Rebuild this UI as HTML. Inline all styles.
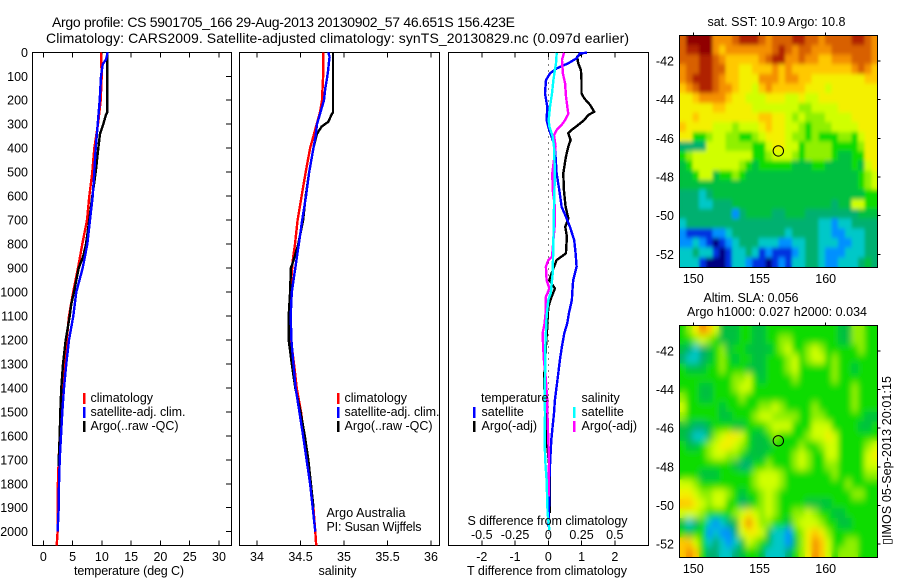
<!DOCTYPE html>
<html lang="en">
<head>
<meta charset="utf-8">
<title>Argo profile 5901705_166</title>
<style>
html,body{margin:0;padding:0;background:#fff;}
svg{display:block;}
text{font-family:"Liberation Sans",sans-serif;font-size:12.5px;fill:#000;}
.title{font-size:14px;}
</style>
</head>
<body>
<svg id="chart" xmlns="http://www.w3.org/2000/svg" width="900" height="580" viewBox="0 0 900 580">
  <defs>
    <clipPath id="clip-sst"><rect x="679.3" y="35.3" width="198" height="232"/></clipPath>
    <clipPath id="clip-sla"><rect x="679.3" y="325.7" width="198" height="231.6"/></clipPath>
    <filter id="smooth" x="0" y="0" width="100%" height="100%"><feGaussianBlur in="SourceGraphic" stdDeviation="3 4" result="b"/><feMerge><feMergeNode in="SourceGraphic"/><feMergeNode in="b"/></feMerge></filter>
    <filter id="soft" x="0" y="0" width="100%" height="100%"><feGaussianBlur in="SourceGraphic" stdDeviation="1.6 2.2" result="b"/><feMerge><feMergeNode in="SourceGraphic"/><feMergeNode in="b"/></feMerge></filter>
  </defs>
  <text class="title" x="52" y="27" textLength="463">Argo profile: CS 5901705_166 29-Aug-2013 20130902_57 46.651S 156.423E</text>
  <text class="title" x="46" y="43" textLength="583">Climatology: CARS2009. Satellite-adjusted climatology: synTS_20130829.nc (0.097d earlier)</text>

  <g id="map-layer"></g>
  <g id="plot-layer"></g>

  <text x="74" y="575" textLength="110">temperature (deg C)</text>
  <text x="318.5" y="575" textLength="38">salinity</text>
  <text x="467" y="575" textLength="160">T difference from climatology</text>
  <text x="467.5" y="525" textLength="160">S difference from climatology</text>

  <text x="90.5" y="402">climatology</text>
  <text x="90.5" y="416" textLength="95">satellite-adj. clim.</text>
  <text x="90.5" y="430" textLength="88">Argo(..raw -QC)</text>
  <text x="344.5" y="402">climatology</text>
  <text x="344.5" y="416" textLength="95">satellite-adj. clim.</text>
  <text x="344.5" y="430" textLength="88">Argo(..raw -QC)</text>
  <text x="326.5" y="517" textLength="79">Argo Australia</text>
  <text x="326.5" y="531" textLength="95">PI: Susan Wijffels</text>

  <text x="481" y="402">temperature</text>
  <text x="481.5" y="416">satellite</text>
  <text x="481.5" y="430">Argo(-adj)</text>
  <text x="581.5" y="402">salinity</text>
  <text x="581.5" y="416">satellite</text>
  <text x="581.5" y="430">Argo(-adj)</text>

  <text x="707.5" y="26" textLength="138">sat. SST: 10.9 Argo: 10.8</text>
  <text x="703.5" y="302" textLength="95">Altim. SLA: 0.056</text>
  <text x="687" y="316" textLength="180">Argo h1000: 0.027 h2000: 0.034</text>
  <text transform="translate(891,545) rotate(-90)" x="0" y="0" textLength="169">▯IMOS 05-Sep-2013 20:01:15</text>
</svg>

<script>
// ---------- profile data (depth in m, values in data units) ----------
const depthTicks = [0,100,200,300,400,500,600,700,800,900,1000,1100,1200,1300,1400,1500,1600,1700,1800,1900,2000];
const tempTicks = [0,5,10,15,20,25,30];
const salTicks = [34,34.5,35,35.5,36];
const salTickLabels = ['34','34.5','35','35.5','36'];
const tDiffTicks = [-2,-1,0,1,2];
const sDiffTicks = [-0.5,-0.25,0,0.25,0.5];
const sDiffTickLabels = ['-0.5','-0.25','0','0.25','0.5'];

const tempClimDepth = [0,100,200,300,400,500,600,700,800,900,1000,1100,1200,1300,1400,1500,1600,1700,1800,1900,2000,2057];
const tempClimValue = [9.85,9.97,9.8,9.34,8.7,8.37,7.86,7.46,6.66,5.92,5.1,4.39,3.99,3.53,3.2,3.07,2.8,2.63,2.5,2.5,2.45,2.29];
const tempSatDepth = [0,30,50,100,200,300,400,500,600,700,800,900,1000,1100,1200,1300,1400,1500,1600,1700,1800,1900,2000];
const tempSatValue = [11,10.7,10.14,9.85,9.63,9.29,8.95,8.71,8.43,7.97,7.51,6.73,5.63,5.12,4.39,3.93,3.53,3.24,3.02,2.8,2.68,2.63,2.45];
const tempArgoDepth = [0,250,260,300,340,400,500,600,700,800,850,900,1000,1050,1100,1200,1300,1400,1500,1600,1725];
const tempArgoValue = [10.93,10.93,10.7,10.24,9.68,9.39,8.95,8.37,7.86,7.29,6.83,6.04,5.24,4.78,4.5,3.82,3.36,3.07,2.9,2.8,2.6];

const salClimDepth = [0,100,200,250,300,350,400,500,600,700,800,870,1000,1100,1200,1300,1400,1500,1600,1700,1800,1900,2000,2057];
const salClimValue = [34.762,34.76,34.747,34.724,34.686,34.648,34.61,34.56,34.513,34.467,34.437,34.41,34.383,34.375,34.39,34.425,34.456,34.506,34.54,34.59,34.617,34.648,34.67,34.68];
const salSatDepth = [0,20,50,80,100,150,200,250,300,350,400,500,600,700,800,900,1000,1100,1200,1300,1400,1500,1600,1700,1800,1900,2000];
const salSatValue = [34.82,34.835,34.824,34.816,34.808,34.785,34.77,34.73,34.69,34.674,34.648,34.6,34.563,34.52,34.48,34.44,34.4,34.387,34.395,34.418,34.444,34.487,34.53,34.57,34.61,34.64,34.67];
const salArgoDepth = [0,250,260,290,310,340,400,500,600,700,800,870,900,1000,1100,1200,1300,1400,1500,1600,1700,1800,1900];
const salArgoValue = [34.874,34.874,34.858,34.82,34.743,34.69,34.648,34.6,34.56,34.53,34.475,34.418,34.39,34.38,34.364,34.364,34.4,34.44,34.5,34.55,34.59,34.62,34.65];

const dtSatDepth = [2,4,25,46,67,88,116,171,227,283,310,352,394,505,575,644,686,728,783,839,895,950,1006,1033,1089,1130,1172,1228,1283,1339,1395,1450,1506,1562,1617,1673,1756,1868,1979];
const dtSatValue = [1.16,0.95,0.85,0.6,0.25,0.05,-0.07,-0.1,-0.03,-0.05,0,0.1,0.2,0.25,0.33,0.4,0.53,0.65,0.78,0.82,0.85,0.75,0.72,0.71,0.62,0.57,0.48,0.41,0.35,0.3,0.25,0.2,0.17,0.13,0.09,0.07,0.04,0.03,0];
const dtArgoDepth = [2,18,46,74,116,171,192,220,248,262,283,303,324,338,366,394,436,505,575,644,693,728,770,839,867,895,922,950,985,1020,1062,1367,1478,1562,1645,1756,1923];
const dtArgoValue = [1.05,0.87,0.9,0.98,1,1,1.08,1.26,1.38,1.2,1.08,0.9,0.7,0.6,0.67,0.6,0.53,0.45,0.47,0.52,0.6,0.51,0.56,0.53,0.25,0.17,0.1,0.03,0.2,0.1,0,-0.13,-0.09,-0.05,-0.03,0.05,0.05];
const dsSatDepth = [2,46,74,116,171,227,283,310,352,394,505,644,783,922,1006,1033,1103,1172,1242,1311,1422,1506,1617,1701,1784,1923,1993];
const dsSatValue = [0.063,0.058,0.05,0.038,0.028,0.013,0.003,0.008,0.033,0.043,0.05,0.043,0.038,0.033,0.018,0,-0.013,-0.018,-0.023,-0.023,-0.028,-0.025,-0.028,-0.023,-0.013,-0.005,0.008];
const dsArgoDepth = [2,32,88,130,185,227,257,283,303,324,345,394,505,575,644,714,783,853,867,895,950,985,1020,1033,1089,1130,1172,1214,1283,1367,1450,1534,1617,1701,1854];
const dsArgoValue = [0.118,0.103,0.11,0.126,0.133,0.143,0.15,0.126,0.1,0.063,0.043,0.055,0.03,0.033,0.05,0.05,0.038,0.028,0,-0.018,-0.013,0.008,-0.018,-0.02,-0.02,-0.028,-0.043,-0.04,-0.033,-0.018,-0.008,-0.005,0,0.005,0.003];

// ---------- map data (colour-scale level per 0.5 degree cell) ----------
const mapLonTicks = [150,155,160];
const mapLatTicks = [-42,-44,-46,-48,-50,-52];
const floatLon = 156.423;
const floatLat = -46.651;
const colorLevels = ['#000080','#0030e0','#0090ff','#00c8c8','#00b070','#00c040','#10dc00','#90f000','#d0ff00','#f4f000','#ffc800','#f49000','#d86000','#b02000','#900000'];
const sstRow0  = [12,14,14,14,14,11,11,11,12,13,13,13,12,11,12,12,12,13,13,12,12,11,12,12,12,12,13,13,12,11];
const sstRow1  = [12,13,13,14,14,11,10,11,11,11,11,11,11,11,12,13,12,11,12,12,11,11,11,12,12,12,12,12,12,11];
const sstRow2  = [12,12,12,13,13,12,11,10,10,10,10,10,11,12,13,13,11,11,12,11,11,10,10,11,11,11,12,12,12,11];
const sstRow3  = [11,12,12,13,13,12,12,10,10,9,9,10,10,10,11,10,11,10,10,10,10,10,10,10,10,10,11,12,11,10];
const sstRow4  = [11,12,13,13,13,12,11,10,10,9,9,9,11,11,11,10,11,11,10,10,9,9,9,9,9,9,9,9,10,10];
const sstRow5  = [10,11,12,13,13,12,11,11,10,9,9,8,10,11,10,10,10,10,10,9,9,9,8,9,9,9,9,9,9,9];
const sstRow6  = [9,9,10,11,11,11,11,10,9,9,8,8,8,9,9,9,8,8,9,8,8,9,9,9,9,9,9,9,9,9];
const sstRow7  = [9,9,9,9,9,10,10,9,9,9,9,8,8,8,8,8,8,8,7,7,8,8,8,8,9,9,9,9,9,9];
const sstRow8  = [9,9,10,9,9,9,9,9,9,9,9,9,10,10,9,9,8,7,8,7,7,7,8,8,8,8,9,9,9,9];
const sstRow9  = [10,9,9,9,9,8,8,8,7,8,8,8,9,10,9,9,8,8,7,6,7,7,7,8,8,8,8,9,9,9];
const sstRow10 = [9,9,6,6,7,8,8,7,7,6,6,7,8,9,9,9,8,7,7,6,7,6,6,6,7,7,6,8,9,9];
const sstRow11 = [4,4,4,4,8,8,8,7,7,7,7,6,6,8,9,9,8,8,6,7,7,7,7,6,6,6,6,7,9,9];
const sstRow12 = [6,7,8,8,8,8,8,8,8,8,8,6,6,7,8,8,8,7,6,7,7,7,7,6,5,5,6,6,9,9];
const sstRow13 = [5,6,8,8,8,8,8,8,8,7,6,5,6,6,6,6,6,5,5,5,6,6,5,5,5,5,6,5,8,9];
const sstRow14 = [5,5,6,8,8,5,6,6,7,6,5,5,5,5,5,5,5,5,5,5,5,5,5,5,5,5,5,6,7,8];
const sstRow15 = [5,5,5,5,5,5,5,5,5,5,5,5,5,5,5,5,5,5,5,5,5,5,5,5,5,5,5,6,7,8];
const sstRow16 = [4,4,4,3,4,5,5,5,5,5,5,5,5,5,5,5,5,5,5,5,5,5,5,5,5,5,5,5,6,6];
const sstRow17 = [4,4,4,3,3,4,4,4,5,5,5,5,5,5,5,5,5,5,5,5,5,5,5,4,5,5,8,8,6,6];
const sstRow18 = [4,4,4,4,4,4,4,4,2,4,5,5,5,5,4,4,5,5,5,4,4,4,4,4,4,4,4,5,5,5];
const sstRow19 = [3,4,4,4,4,4,4,4,4,4,4,4,4,4,4,4,4,4,4,4,4,3,3,2,3,3,4,4,4,4];
const sstRow20 = [2,1,1,1,1,2,2,3,4,4,4,4,4,4,4,4,3,4,4,4,4,3,3,2,2,3,3,3,4,4];
const sstRow21 = [2,2,3,2,1,0,1,2,3,4,4,4,3,3,3,2,2,3,3,4,4,3,3,3,2,2,3,3,4,4];
const sstRow22 = [3,3,4,3,3,1,0,1,3,3,4,3,1,2,1,1,1,2,3,4,4,3,2,2,2,3,3,3,4,4];
const sstRow23 = [3,3,3,1,0,0,0,1,3,3,2,1,1,0,1,2,1,3,3,4,4,3,2,2,3,3,3,4,5,4];
const sstRows = [sstRow0,sstRow1,sstRow2,sstRow3,sstRow4,sstRow5,sstRow6,sstRow7,sstRow8,sstRow9,sstRow10,sstRow11,sstRow12,sstRow13,sstRow14,sstRow15,sstRow16,sstRow17,sstRow18,sstRow19,sstRow20,sstRow21,sstRow22,sstRow23];

const slaRow0  = [6,7,9,11,10,8,5,5,5,6,6,5,5,6,6,6,6,6,6,6,6,6,6,6,5,5,7,7,6,6];
const slaRow1  = [6,6,7,8,7,6,5,5,5,6,6,5,5,6,6,7,7,6,6,6,6,6,6,6,5,5,7,7,6,6];
const slaRow2  = [5,4,3,4,5,6,7,5,6,6,5,5,5,5,6,7,8,6,6,7,8,7,6,6,6,6,6,7,6,6];
const slaRow3  = [4,3,3,4,5,6,7,6,5,6,6,5,5,6,6,6,7,8,6,7,8,8,6,7,6,6,6,6,6,6];
const slaRow4  = [6,5,5,5,6,6,7,6,6,6,5,5,5,6,6,6,7,8,6,6,6,6,6,7,6,6,5,6,6,6];
const slaRow5  = [6,6,6,6,6,6,6,6,7,7,8,6,5,6,6,6,6,7,6,6,6,6,6,7,6,6,6,6,6,6];
const slaRow6  = [6,6,6,5,5,6,6,6,7,8,8,6,6,6,6,6,6,6,6,6,6,6,6,6,6,6,7,6,6,6];
const slaRow7  = [7,6,6,5,5,6,6,6,6,7,6,6,6,6,6,6,6,6,6,6,6,6,6,6,6,6,7,6,6,6];
const slaRow8  = [8,6,6,6,6,6,5,6,6,6,6,6,7,7,8,7,6,6,6,6,7,6,6,6,6,6,7,6,6,6];
const slaRow9  = [7,6,6,6,6,6,5,5,6,6,6,7,8,8,7,7,7,7,6,6,7,7,6,6,6,6,6,6,5,5];
const slaRow10 = [5,5,4,4,5,6,6,6,5,5,6,6,6,7,8,8,8,6,6,6,8,8,8,6,6,6,6,5,5,6];
const slaRow11 = [5,4,3,3,5,7,8,9,9,8,6,5,5,6,7,6,6,6,6,7,8,8,9,8,6,6,6,6,6,6];
const slaRow12 = [6,5,5,6,7,8,9,9,8,7,6,5,5,5,6,6,6,6,7,6,6,7,8,8,6,6,6,6,7,8];
const slaRow13 = [6,6,6,6,7,8,8,7,7,6,5,5,5,6,6,6,6,7,8,7,6,6,8,8,6,6,6,6,8,9];
const slaRow14 = [6,6,6,6,6,6,6,6,5,4,4,6,6,7,6,6,6,7,8,7,6,6,7,7,6,6,6,6,8,8];
const slaRow15 = [6,6,6,5,5,5,6,6,6,6,6,7,8,8,8,7,6,6,6,6,6,6,6,7,6,6,6,6,7,7];
const slaRow16 = [8,8,7,6,6,6,6,6,6,6,6,7,8,8,8,7,6,6,6,6,6,6,6,6,6,7,6,6,6,6];
const slaRow17 = [9,9,8,7,7,8,8,7,6,5,6,6,7,8,7,6,6,6,6,6,6,6,6,6,6,6,7,7,6,6];
const slaRow18 = [10,10,9,8,7,8,8,6,6,4,5,6,7,8,7,6,6,6,6,5,5,5,5,6,6,6,6,6,6,6];
const slaRow19 = [8,8,8,7,6,6,6,6,7,8,9,8,7,8,7,6,6,7,7,8,7,6,6,5,5,6,6,6,6,6];
const slaRow20 = [5,3,4,6,3,2,3,4,5,9,11,9,7,7,6,6,5,7,8,8,8,7,6,6,5,5,6,6,6,6];
const slaRow21 = [6,5,6,6,2,3,2,2,4,8,9,9,8,5,3,3,2,6,7,9,10,9,7,6,6,6,6,6,6,6];
const slaRow22 = [10,10,8,6,3,4,3,2,3,5,8,7,6,5,3,3,2,5,7,9,11,10,8,6,6,7,7,6,6,6];
const slaRow23 = [10,11,10,6,4,4,3,3,4,5,6,6,5,3,3,3,4,6,7,9,11,10,8,6,7,7,7,6,6,6];
const slaRows = [slaRow0,slaRow1,slaRow2,slaRow3,slaRow4,slaRow5,slaRow6,slaRow7,slaRow8,slaRow9,slaRow10,slaRow11,slaRow12,slaRow13,slaRow14,slaRow15,slaRow16,slaRow17,slaRow18,slaRow19,slaRow20,slaRow21,slaRow22,slaRow23];

// ---------- axis functions ----------
const NS = 'http://www.w3.org/2000/svg';
const plotTop = 52.3, plotBottom = 545.3;
const yDepth = d => 52.3 + d * 0.2397;
const xTemp = v => 43.3 + v * 5.857;
const xSal = v => 257 + (v - 34) * 87;
const xDT = v => 548.3 + v * 33.25;
const xDS = v => 548.3 + v * 133;
const xLon = lon => 693.3 + (lon - 150) * 13.24;
const ySst = lat => 61 + (-42 - lat) * 19.33;
const ySla = lat => 351 + (-42 - lat) * 19.3;
const plotLayer = document.getElementById('plot-layer');
const mapLayer = document.getElementById('map-layer');

function make(tag, parent, attrs, text) {
  const el = document.createElementNS(NS, tag);
  for (const k in attrs) el.setAttribute(k, attrs[k]);
  if (text !== undefined) el.textContent = text;
  parent.appendChild(el);
  return el;
}
function axisLine(parent, name, x1, y1, x2, y2) {
  const el = make('line', parent, {x1, y1, x2, y2, stroke: '#000', 'stroke-width': 1, 'shape-rendering': 'crispEdges'});
  
  
  return el;
}
function label(parent, name, x, y, anchor, str) {
  const el = make('text', parent, {x, y, 'text-anchor': anchor}, str);
  
  
  return el;
}
function frame(parent, name, x, y, w, h) {
  const el = make('rect', parent, {x, y, width: w, height: h, fill: 'none', stroke: '#000', 'stroke-width': 1, 'shape-rendering': 'crispEdges'});
  
  
  return el;
}
function profile(name, depths, values, xf, color, width) {
  const pts = depths.map((d, i) => xf(values[i]).toFixed(1) + ',' + yDepth(d).toFixed(1)).join(' ');
  const el = make('polyline', plotLayer, {points: pts, fill: 'none', stroke: color, 'stroke-width': width, 'shape-rendering': 'crispEdges', 'stroke-linejoin': 'round'});
  
  
  return el;
}
function legendKey(name, x, y, color) {
  const el = make('rect', plotLayer, {x: x - 1, y, width: 2.4, height: 11, fill: color, 'shape-rendering': 'crispEdges'});
  
  
}

// ---------- profile panels ----------
const panels = [
  {key: 'temperature', left: 32.5, right: 231.5},
  {key: 'salinity', left: 239.5, right: 439.5},
  {key: 'difference', left: 448.5, right: 648.5}
];
panels.forEach(p => frame(plotLayer, p.key + '-panel-frame', p.left, plotTop, p.right - p.left, plotBottom - plotTop));

depthTicks.forEach(d => {
  label(plotLayer, 'depth-tick-label', 28, yDepth(d) + 4.5, 'end', String(d));
  axisLine(plotLayer, 'depth-tick', 226, yDepth(d), 231.5, yDepth(d));
});
tempTicks.forEach(v => {
  label(plotLayer, 'temperature-tick-label', xTemp(v), 561, 'middle', String(v));
  axisLine(plotLayer, 'temperature-tick-top', xTemp(v), plotTop, xTemp(v), plotTop + 5);
  axisLine(plotLayer, 'temperature-tick-bottom', xTemp(v), plotBottom - 5, xTemp(v), plotBottom);
});
salTicks.forEach((v, i) => {
  label(plotLayer, 'salinity-tick-label', xSal(v), 561, 'middle', salTickLabels[i]);
  axisLine(plotLayer, 'salinity-tick-top', xSal(v), plotTop, xSal(v), plotTop + 5);
  axisLine(plotLayer, 'salinity-tick-bottom', xSal(v), plotBottom - 5, xSal(v), plotBottom);
});
tDiffTicks.forEach(v => {
  label(plotLayer, 't-difference-tick-label', xDT(v), 561, 'middle', String(v));
  axisLine(plotLayer, 't-difference-tick-top', xDT(v), plotTop, xDT(v), plotTop + 5);
  axisLine(plotLayer, 't-difference-tick-bottom', xDT(v), plotBottom - 5, xDT(v), plotBottom);
});
sDiffTicks.forEach((v, i) => {
  label(plotLayer, 's-difference-tick-label', xDS(v), 539, 'middle', sDiffTickLabels[i]);
});

const zeroLine = make('line', plotLayer, {x1: xDT(0), y1: plotTop, x2: xDT(0), y2: plotBottom, stroke: '#000', 'stroke-width': 1, 'stroke-dasharray': '1 5', 'shape-rendering': 'crispEdges'});



profile('temperature-climatology-line', tempClimDepth, tempClimValue, xTemp, '#ff0000', 2.4);
profile('temperature-argo-line', tempArgoDepth, tempArgoValue, xTemp, '#000000', 2.4);
profile('temperature-satellite-line', tempSatDepth, tempSatValue, xTemp, '#0000ff', 2.4);
profile('salinity-climatology-line', salClimDepth, salClimValue, xSal, '#ff0000', 2.4);
profile('salinity-argo-line', salArgoDepth, salArgoValue, xSal, '#000000', 2.4);
profile('salinity-satellite-line', salSatDepth, salSatValue, xSal, '#0000ff', 2.4);
profile('t-difference-argo-line', dtArgoDepth, dtArgoValue, xDT, '#000000', 2.4);
profile('t-difference-satellite-line', dtSatDepth, dtSatValue, xDT, '#0000ff', 2.4);
profile('s-difference-argo-line', dsArgoDepth, dsArgoValue, xDS, '#ff00ff', 2.4);
profile('s-difference-satellite-line', dsSatDepth, dsSatValue, xDS, '#00ffff', 2.4);

legendKey('legend-climatology-key', 84, 393, '#ff0000');
legendKey('legend-satellite-key', 84, 407, '#0000ff');
legendKey('legend-argo-key', 84, 421, '#000000');
legendKey('legend-climatology-key-salinity', 338, 393, '#ff0000');
legendKey('legend-satellite-key-salinity', 338, 407, '#0000ff');
legendKey('legend-argo-key-salinity', 338, 421, '#000000');
legendKey('legend-t-satellite-key', 474, 407, '#0000ff');
legendKey('legend-t-argo-key', 474, 421, '#000000');
legendKey('legend-s-satellite-key', 574, 407, '#00ffff');
legendKey('legend-s-argo-key', 574, 421, '#ff00ff');

// ---------- maps ----------
function drawCells(parent, rows, yf, name) {
  const lonStart = 148.94, latStart = -40.66, step = 0.5;
  rows.forEach((row, r) => {
    row.forEach((level, c) => {
      const x0 = xLon(lonStart + c * step), x1 = xLon(lonStart + (c + 1) * step);
      const y0 = yf(latStart - r * step), y1 = yf(latStart - (r + 1) * step);
      const cell = make('rect', parent, {x: x0.toFixed(2), y: y0.toFixed(2), width: (x1 - x0 + 0.4).toFixed(2), height: (y1 - y0 + 0.4).toFixed(2), fill: colorLevels[level], 'shape-rendering': 'crispEdges'});
      
      
    });
  });
}
function mapAxes(name, top, bottom, yf) {
  const left = 679.5, right = 877.5;
  frame(mapLayer, name + '-frame', left, top, right - left, bottom - top);
  mapLonTicks.forEach(lon => {
    label(mapLayer, name + '-lon-tick-label', xLon(lon), bottom + 15.5, 'middle', String(lon));
    axisLine(mapLayer, name + '-lon-tick', xLon(lon), top - 3, xLon(lon), top);
  });
  mapLatTicks.forEach(lat => {
    label(mapLayer, name + '-lat-tick-label', 674, yf(lat) + 4.5, 'end', String(lat));
    axisLine(mapLayer, name + '-lat-tick', right, yf(lat), right + 3, yf(lat));
  });
  const marker = make('circle', mapLayer, {cx: xLon(floatLon), cy: yf(floatLat), r: 5.2, fill: 'none', stroke: '#000', 'stroke-width': 1});
  
  
}
const sstClip = make('g', mapLayer, {'clip-path': 'url(#clip-sst)'});


const sstGroup = make('g', sstClip, {filter: 'url(#soft)'});


drawCells(sstGroup, sstRows, ySst, 'sst-cell');
mapAxes('sst-map', 35.5, 267.5, ySst);

const slaClip = make('g', mapLayer, {'clip-path': 'url(#clip-sla)'});


const slaGroup = make('g', slaClip, {filter: 'url(#smooth)'});


drawCells(slaGroup, slaRows, ySla, 'sla-cell');
mapAxes('sla-map', 325.5, 557.5, ySla);
</script>
</body>
</html>
